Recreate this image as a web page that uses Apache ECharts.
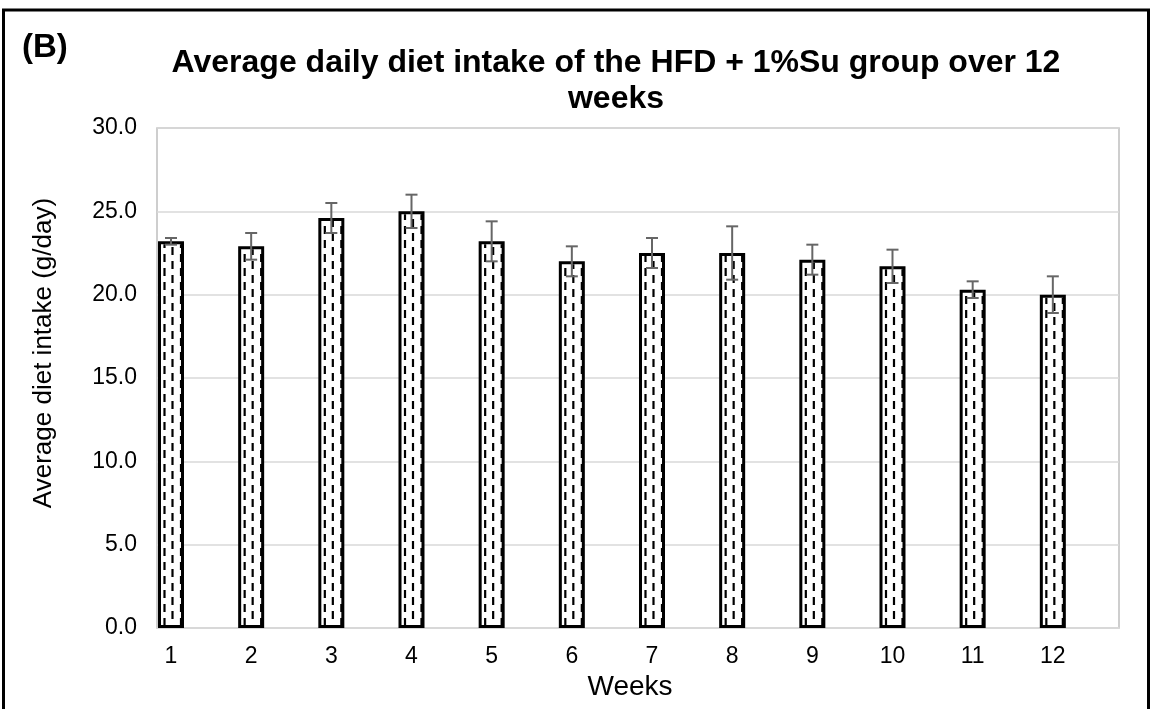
<!DOCTYPE html>
<html>
<head>
<meta charset="utf-8">
<title>Average daily diet intake</title>
<script src="https://cdn.jsdelivr.net/npm/echarts@6/dist/echarts.min.js"></script>
<style>
  html, body { margin: 0; padding: 0; background: #fff; }
  #chart { width: 1152px; height: 709px; }
</style>
</head>
<body>
<div id="chart"></div>
<script>
// weeks 1-12, mean intake (g/day) and error (+/-)
var weeks = [1, 2, 3, 4, 5, 6, 7, 8, 9, 10, 11, 12]
var intake = [23.2, 22.9, 24.6, 25.0, 23.2, 22.0, 22.5, 22.5, 22.1, 21.7, 20.3, 20.0]
var errs = [0.2, 0.8, 0.9, 1.0, 1.2, 0.9, 0.9, 1.6, 0.9, 1.0, 0.5, 1.1]
var yTicks = [0, 5, 10, 15, 20, 25, 30]

var FONT = 'Liberation Sans, Arial, sans-serif'

var chart = echarts.init(document.getElementById('chart'))

var barData = weeks.map(function (w, i) { return [w, intake[i]] })
var errData = weeks.map(function (w, i) { return [w, intake[i] - errs[i], intake[i] + errs[i]] })

// dashed vertical lines inside each bar
function renderHatch(params, api) {
  var top = api.coord([api.value(0), api.value(1)])
  var bot = api.coord([api.value(0), 0])
  var offs = [-6.5, 1.5, 10]
  var children = offs.map(function (dx, k) {
    return {
      type: 'line',
      shape: { x1: top[0] + dx, y1: bot[1] - 2, x2: top[0] + dx, y2: top[1] + 3 },
      style: { stroke: '#000', lineWidth: 2.2, lineDash: [8, 6], lineDashOffset: k === 1 ? 7 : 0 }
    }
  })
  return { type: 'group', children: children }
}

function renderErr(params, api) {
  var lo = api.coord([api.value(0), api.value(1)])
  var hi = api.coord([api.value(0), api.value(2)])
  var cap = 6
  var st = { stroke: '#666', lineWidth: 2 }
  return {
    type: 'group',
    children: [
      { type: 'line', shape: { x1: lo[0], y1: lo[1], x2: hi[0], y2: hi[1] }, style: st },
      { type: 'line', shape: { x1: lo[0] - cap, y1: lo[1], x2: lo[0] + cap, y2: lo[1] }, style: st },
      { type: 'line', shape: { x1: hi[0] - cap, y1: hi[1], x2: hi[0] + cap, y2: hi[1] }, style: st }
    ]
  }
}

chart.setOption({
  animation: false,
  backgroundColor: '#fff',
  title: {
    text: 'Average daily diet intake of the HFD + 1%Su group over 12\nweeks',
    left: 611,
    top: 40,
    textAlign: 'center',
    textStyle: { fontFamily: FONT, fontSize: 32, fontWeight: 'bold', color: '#000', lineHeight: 36 }
  },
  graphic: [
    {
      type: 'rect',
      shape: { x: 3.5, y: 10, width: 1145, height: 720 },
      style: { fill: 'none', stroke: '#000', lineWidth: 3 },
      silent: true
    },
    {
      type: 'text',
      left: 22,
      top: 31,
      style: { text: '(B)', fontFamily: FONT, fontSize: 33, fontWeight: 'bold', fill: '#000' }
    }
  ],
  grid: {
    left: 157, right: 33, top: 128, bottom: 81,
    show: true, borderColor: '#bfbfbf', borderWidth: 1.5
  },
  xAxis: {
    type: 'value',
    min: 0.8254,
    max: 12.8254,
    name: 'Weeks',
    nameLocation: 'middle',
    nameGap: 38,
    nameTextStyle: { fontFamily: FONT, fontSize: 28, color: '#000', padding: [0, 16, 0, 0] },
    axisLine: { show: true, lineStyle: { color: '#d9d9d9', width: 1.5 } },
    axisTick: { show: false },
    splitLine: { show: false },
    axisLabel: {
      customValues: weeks,
      margin: 17,
      fontFamily: FONT, fontSize: 23, color: '#000'
    }
  },
  yAxis: {
    type: 'value',
    min: 0,
    max: 30,
    interval: 5,
    name: 'Average diet intake (g/day)',
    nameLocation: 'middle',
    nameGap: 100,
    nameTextStyle: { fontFamily: FONT, fontSize: 26, color: '#000', padding: [0, 0, 0, 50] },
    axisLine: { show: false },
    axisTick: { show: false },
    splitLine: { lineStyle: { color: '#d9d9d9', width: 1.5 } },
    axisLabel: {
      margin: 20,
      fontFamily: FONT, fontSize: 23, color: '#000',
      formatter: function (v) { return v.toFixed(1) }
    }
  },
  series: [
    {
      type: 'bar',
      data: barData,
      barWidth: 26,
      clip: false,
      itemStyle: { color: '#fff', borderColor: '#000', borderWidth: 3 }
    },
    {
      type: 'custom',
      data: barData,
      renderItem: renderHatch,
      clip: false,
      z: 3
    },
    {
      type: 'custom',
      data: errData,
      renderItem: renderErr,
      encode: { x: 0, y: [1, 2] },
      z: 4
    }
  ]
})
</script>
</body>
</html>
